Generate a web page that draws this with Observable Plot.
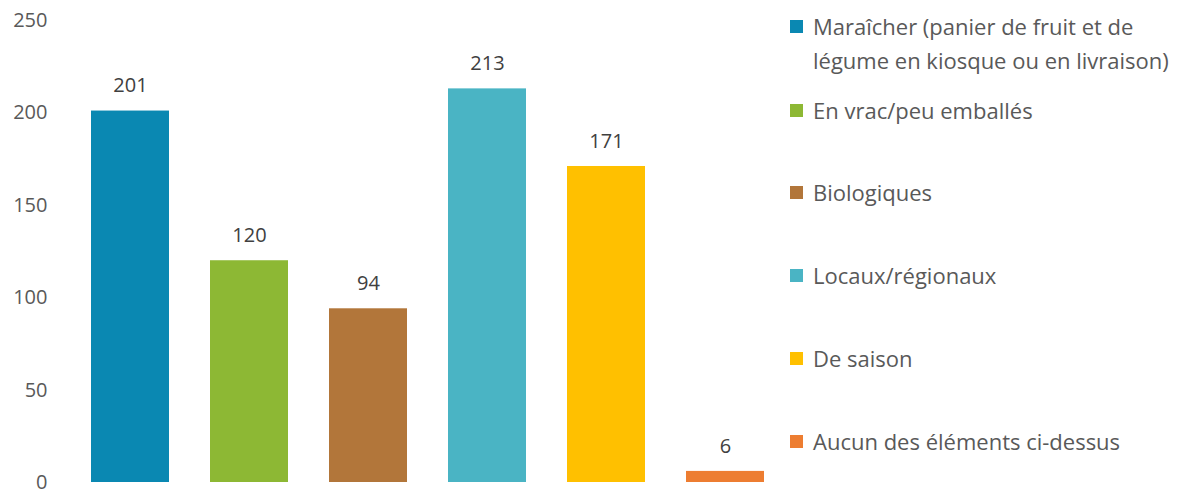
<!DOCTYPE html>
<html>
<head>
<meta charset="utf-8">
<script src="https://cdn.jsdelivr.net/npm/d3@7"></script>
<script src="https://cdn.jsdelivr.net/npm/@observablehq/plot@0.6"></script>
<style>
  html, body { margin: 0; padding: 0; background: #ffffff; }
  #wrap { position: relative; width: 1196px; height: 489px; overflow: hidden; font-family: "Open Sans", Lato, sans-serif; }
  #legend { position: absolute; left: 790px; top: 0; width: 406px; }
  .item { position: absolute; left: 0; display: flex; align-items: flex-start; color: #595959; font-size: 22px; line-height: 34px; white-space: nowrap; }
  .sw { width: 13px; height: 13px; margin-top: 11px; margin-right: 10px; flex: none; }
</style>
</head>
<body>
<div id="wrap"><div id="chart"></div><div id="legend"></div></div>
<script>
const categories = [
  "Maraîcher (panier de fruit et de légume en kiosque ou en livraison)",
  "En vrac/peu emballés",
  "Biologiques",
  "Locaux/régionaux",
  "De saison",
  "Aucun des éléments ci-dessus"
];
const legendLines = [
  ["Maraîcher (panier de fruit et de", "légume en kiosque ou en livraison)"],
  ["En vrac/peu emballés"],
  ["Biologiques"],
  ["Locaux/régionaux"],
  ["De saison"],
  ["Aucun des éléments ci-dessus"]
];
const values = [201, 120, 94, 213, 171, 6];
const colors = ["#0A88B2", "#8DB834", "#B2763A", "#4AB4C4", "#FFC000", "#ED7D31"];
const yTicks = [0, 50, 100, 150, 200, 250];
const legendTop = [9, 93, 175, 258, 341, 424];

const data = categories.map((c, i) => ({category: c, value: values[i]}));

const chart = Plot.plot({
  width: 1196,
  height: 489,
  marginTop: 20,
  marginBottom: 7,
  marginLeft: 69,
  marginRight: 410,
  style: {fontFamily: "'Open Sans', Lato, sans-serif", fontSize: "20px", color: "#595959", background: "transparent"},
  x: {domain: categories, paddingInner: 0.345, paddingOuter: 0.1725, axis: null},
  y: {domain: [0, 250], ticks: yTicks, tickSize: 0, tickPadding: 22, label: null, tickFormat: d3.format("d")},
  color: {domain: categories, range: colors},
  marks: [
    Plot.barY(data, {x: "category", y: "value", fill: "category"}),
    Plot.text(data, {x: "category", y: "value", text: d => String(d.value), dy: -25, fill: "#404040", fontSize: 20})
  ]
});
document.getElementById("chart").appendChild(chart);

const leg = document.getElementById("legend");
legendLines.forEach((lines, i) => {
  const it = document.createElement("div");
  it.className = "item";
  it.style.top = legendTop[i] + "px";
  const sw = document.createElement("div");
  sw.className = "sw";
  sw.style.background = colors[i];
  const tx = document.createElement("div");
  tx.innerHTML = lines.join("<br>");
  it.appendChild(sw);
  it.appendChild(tx);
  leg.appendChild(it);
});
</script>
</body>
</html>
